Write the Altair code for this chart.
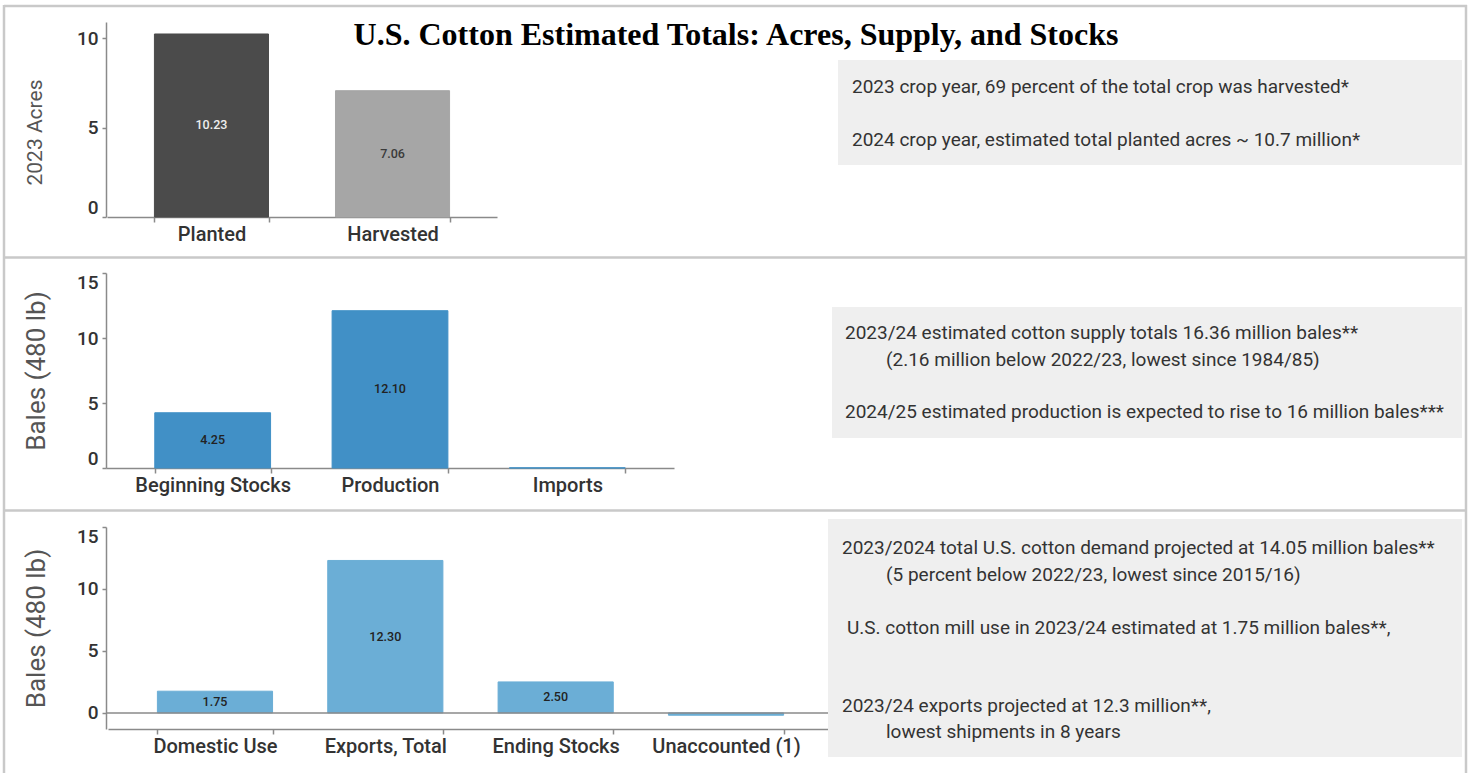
import altair as alt
import pandas as pd

# ---------------- data ----------------
title_text = "U.S. Cotton Estimated Totals: Acres, Supply, and Stocks"

acre_categories = ["Planted", "Harvested"]
acre_values = [10.23, 7.06]

supply_categories = ["Beginning Stocks", "Production", "Imports"]
supply_values = [4.25, 12.10, 0.01]

use_categories = ["Domestic Use", "Exports, Total", "Ending Stocks", "Unaccounted (1)"]
use_values = [1.75, 12.30, 2.50, -0.19]

acre_ticks = [0, 5, 10]
bale_ticks = [0, 5, 10, 15]

acre_notes = [
    "2023 crop year, 69 percent of the total crop was harvested*",
    "2024 crop year, estimated total planted acres ~ 10.7 million*",
]
supply_notes = [
    "2023/24 estimated cotton supply totals 16.36 million bales**",
    "(2.16 million below 2022/23, lowest since 1984/85)",
    "2024/25 estimated production is expected to rise to 16 million bales***",
]
use_notes = [
    "2023/2024 total U.S. cotton demand projected at 14.05 million bales**",
    "(5 percent below 2022/23, lowest since 2015/16)",
    "U.S. cotton mill use in 2023/24 estimated at 1.75 million bales**,",
    "2023/24 exports projected at 12.3 million**,",
    "lowest shipments in 8 years",
]

# ---------------- layout / style ----------------
W, H = 1471, 773
FONT = "Roboto"
AXIS_X = 106
one = pd.DataFrame({"k": [0]})


def x_axis(axis_y):
    return alt.Axis(
        orient="bottom", offset=axis_y - H, title=None, labelAngle=0,
        tickBand="extent", domainColor="#8a8a8a", domainWidth=1.5,
        tickColor="#8a8a8a", tickWidth=1.5, tickSize=5,
        labelFont=FONT, labelFontSize=20, labelFontWeight=500,
        labelColor="#333333", labelPadding=2, zindex=0,
    )


def y_axis(title, ticks, title_size, title_pad, title_y=None):
    extra = {} if title_y is None else {"titleY": title_y}
    return alt.Axis(
        orient="left", offset=-AXIS_X, title=title, values=ticks, grid=False,
        labelFlush=True, domainColor="#8a8a8a", domainWidth=1.5,
        tickColor="#8a8a8a", tickWidth=1.5, tickSize=4,
        labelFont=FONT, labelFontSize=19, labelFontWeight=500,
        labelColor="#333333", labelPadding=4,
        titleFont=FONT, titleFontSize=title_size, titleFontWeight="normal",
        titleColor="#555555", titlePadding=title_pad, zindex=0, **extra,
    )


def panel(cats, vals, bar_color, text_color, xrange, pin, pout, axis_y,
          ydomain, yrange, yaxis, zero_line=None):
    df = pd.DataFrame({"category": cats, "value": vals})
    xs = alt.Scale(range=xrange, paddingInner=pin, paddingOuter=pout)
    ys = alt.Scale(domain=ydomain, range=yrange, nice=False)
    xe = alt.X("category:N", sort=cats, scale=xs, axis=x_axis(axis_y))
    bars = alt.Chart(df).mark_bar(strokeWidth=1).encode(
        x=xe,
        y=alt.Y("value:Q", scale=ys, axis=yaxis),
        color=bar_color,
        stroke=bar_color,
    )
    labels = (
        alt.Chart(df)
        .transform_filter("abs(datum.value) >= 1")
        .transform_calculate(mid="datum.value / 2")
        .mark_text(font=FONT, fontSize=12.5, fontWeight=500, baseline="middle", align="center")
        .encode(
            x=xe,
            y=alt.Y("mid:Q", scale=ys, axis=yaxis),
            text=alt.Text("value:Q", format=".2f"),
            color=text_color,
        )
    )
    layers = [bars]
    if zero_line is not None:
        zdf = pd.DataFrame({"zero": [0]})
        rule = alt.Chart(zdf).mark_rule(color="#8a8a8a", strokeWidth=1.5).encode(
            y=alt.Y("zero:Q", scale=ys, axis=yaxis),
            x=alt.value(zero_line[0]), x2=alt.value(zero_line[1]),
        )
        layers.append(rule)
    layers.append(labels)
    return alt.layer(*layers)


p1 = panel(
    acre_categories, acre_values,
    alt.condition(alt.datum.category == "Planted", alt.value("#4b4b4b"), alt.value("#a6a6a6")),
    alt.condition(alt.datum.category == "Planted", alt.value("#eeeeee"), alt.value("#3a3a3a")),
    [107, 497], 0.37, 0.262, 217, [0, 10.9], [217, 22],
    y_axis("2023 Acres", acre_ticks, 21, 31, title_y=132),
)
p2 = panel(
    supply_categories, supply_values,
    alt.value("#4190c6"), alt.value("#222222"),
    [106, 674], 0.347, 0.275, 468, [0, 15], [468, 273],
    y_axis("Bales (480 lb)", bale_ticks, 26, 27),
)
p3 = panel(
    use_categories, use_values,
    alt.value("#6baed6"), alt.value("#222222"),
    [108, 833], 0.324, 0.29, 729, [-1.3, 15], [729, 527],
    y_axis("Bales (480 lb)", bale_ticks, 26, 27),
    zero_line=(106, 830),
)


def hline(y, x1, x2):
    return alt.Chart(one).mark_rule(color="#c9c9c9", strokeWidth=2.5).encode(
        y=alt.value(y), x=alt.value(x1), x2=alt.value(x2))


def vline(x, y1, y2):
    return alt.Chart(one).mark_rule(color="#c9c9c9", strokeWidth=2.5).encode(
        x=alt.value(x), y=alt.value(y1), y2=alt.value(y2))


def box(x1, x2, y1, y2):
    return alt.Chart(one).mark_rect(color="#efefef").encode(
        x=alt.value(x1), x2=alt.value(x2), y=alt.value(y1), y2=alt.value(y2))


def note(text, x, y):
    return alt.Chart(one).mark_text(
        text=text, align="left", baseline="middle", font=FONT, fontSize=19,
        color="#333333").encode(x=alt.value(x), y=alt.value(y))


frame = [
    hline(6, 4, 1467), hline(257.5, 4, 1467), hline(510.5, 4, 1467),
    vline(4, 5, H), vline(1466, 5, H),
]

boxes = [box(838, 1462, 60, 165), box(832, 1462, 307, 438), box(828, 1462, 519, 757)]

notes = [
    note(acre_notes[0], 852, 87),
    note(acre_notes[1], 852, 140),
    note(supply_notes[0], 845, 333),
    note(supply_notes[1], 886, 360),
    note(supply_notes[2], 845, 412),
    note(use_notes[0], 842, 548),
    note(use_notes[1], 886, 575),
    note(use_notes[2], 847, 628),
    note(use_notes[3], 842, 706),
    note(use_notes[4], 886, 732),
]

title = alt.Chart(one).mark_text(
    text=title_text, align="center", baseline="middle", font="Liberation Serif",
    fontSize=32, fontWeight="bold", color="#000000").encode(x=alt.value(736), y=alt.value(35))

chart = (
    alt.layer(*frame, p1, p2, p3, *boxes, *notes, title)
    .resolve_scale(x="independent", y="independent")
    .resolve_axis(x="independent", y="independent")
    .properties(width=W, height=H, padding=0, background="white",
                autosize=alt.AutoSizeParams(type="none"))
    .configure_view(stroke="transparent")
)

chart.save("out.html", embed_options={"renderer": "svg", "actions": False})
